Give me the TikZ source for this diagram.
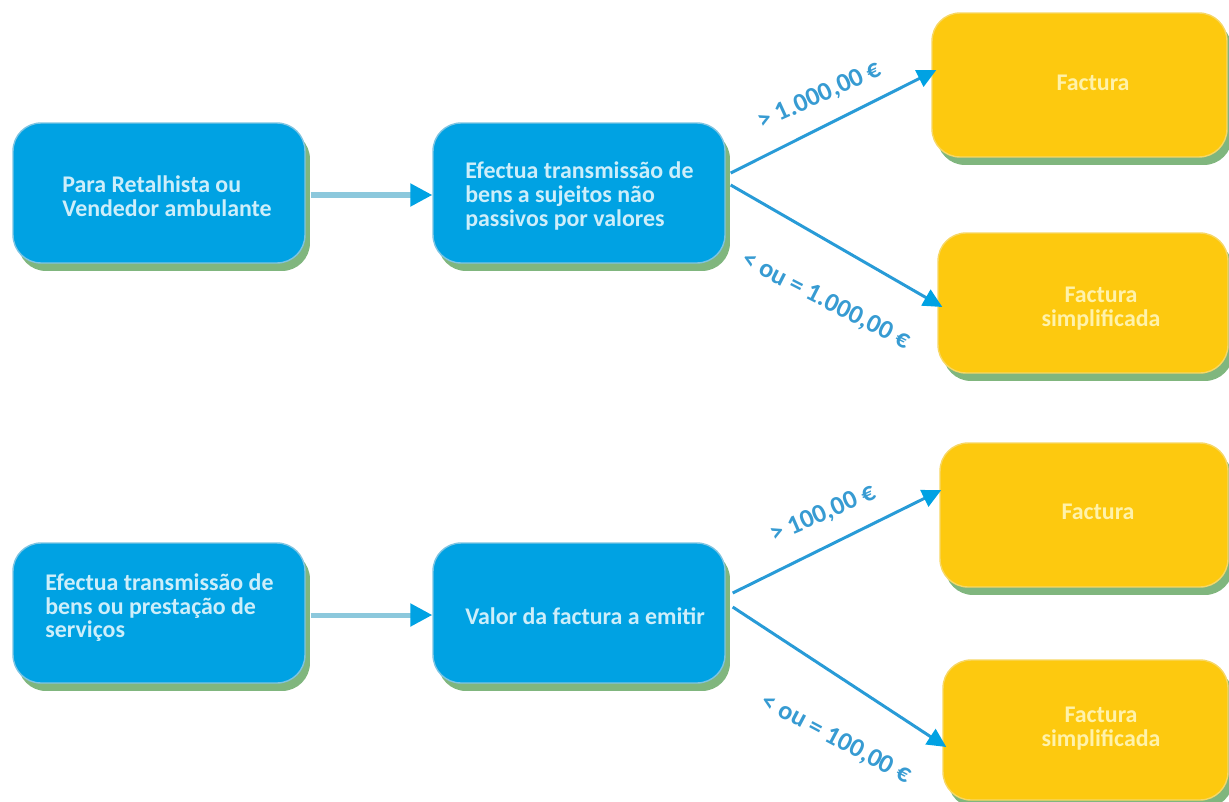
\documentclass[tikz,border=0pt]{standalone}
\usepackage{fontspec}
\setmainfont{Carlito}
\usetikzlibrary{arrows.meta,shadows}

\definecolor{boxblue}{RGB}{0,162,227}
\definecolor{boxyellow}{RGB}{253,201,15}
\definecolor{shadegreen}{RGB}{128,182,126}
\definecolor{rimblue}{RGB}{125,196,226}
\definecolor{rimyellow}{RGB}{247,215,100}
\definecolor{linkblue}{RGB}{140,200,220}
\definecolor{arrowblue}{RGB}{40,155,215}
\definecolor{tagblue}{RGB}{55,155,210}
\definecolor{inkblue}{RGB}{205,238,250}
\definecolor{inkyellow}{RGB}{255,242,170}

\tikzset{
  panel/.style={rounded corners=0.56cm, inner sep=0pt,
    general shadow={shadow xshift=0.1cm, shadow yshift=-0.16cm, fill=shadegreen}},
  bluepanel/.style={panel, fill=boxblue, draw=rimblue, line width=0.8pt},
  yellowpanel/.style={panel, fill=boxyellow, draw=rimyellow, line width=0.8pt},
  boxtext/.style={inner sep=0pt, font=\fontsize{13.6pt}{13.4pt}\selectfont\bfseries},
  bluetext/.style={boxtext, text=inkblue, align=left, anchor=west},
  yellowtext/.style={boxtext, text=inkyellow, align=center},
  tag/.style={inner sep=0pt, text=tagblue, font=\fontsize{15pt}{15pt}\selectfont\bfseries},
  link/.style={draw=linkblue, line width=2.85pt,
    -{Triangle[length=0.44cm, width=0.44cm, color=boxblue]}},
  branch/.style={draw=arrowblue, line width=1.7pt,
    -{Triangle[length=0.38cm, width=0.36cm, color=boxblue]}}
}

\begin{document}
\begin{tikzpicture}[x=0.02cm, y=-0.02cm]
\useasboundingbox (0,0) rectangle (1229,801);

% upper flow: retail seller
\node[bluepanel, minimum width=5.84cm, minimum height=2.8cm] (A) at (159,193) {};
\node[bluepanel, minimum width=5.84cm, minimum height=2.8cm] (B) at (579,193) {};
\node[yellowpanel, minimum width=5.9cm, minimum height=2.88cm] (C) at (1079.5,85) {};
\node[yellowpanel, minimum width=5.8cm, minimum height=2.8cm] (D) at (1083,303) {};

% lower flow: goods or services
\node[bluepanel, minimum width=5.84cm, minimum height=2.8cm] (E) at (159,613) {};
\node[bluepanel, minimum width=5.84cm, minimum height=2.8cm] (F) at (579,613) {};
\node[yellowpanel, minimum width=5.76cm, minimum height=2.88cm] (G) at (1084,515) {};
\node[yellowpanel, minimum width=5.7cm, minimum height=2.8cm] (H) at (1085.5,730) {};

% box texts
\node[bluetext] (At) at (62,196) {Para Retalhista ou\\Vendedor ambulante};
\node[bluetext] (Bt) at (465,196) {Efectua transmissão de\\bens a sujeitos não\\passivos por valores};
\node[bluetext] (Et) at (45,608) {Efectua transmissão de\\bens ou prestação de\\serviços};
\node[bluetext] (Ft) at (465,616) {Valor da factura a emitir};
\node[yellowtext] (Ct) at (1093,83) {Factura};
\node[yellowtext] (Dt) at (1101,308.5) {Factura\\simplificada};
\node[yellowtext] (Gt) at (1098,512) {Factura};
\node[yellowtext] (Ht) at (1101,728.5) {Factura\\simplificada};

% connectors
\draw[link] ([xshift=0.1cm, yshift=-0.04cm]A.east) -- ([yshift=-0.04cm]B.west);
\draw[branch] ([xshift=0.1cm, yshift=0.4cm]B.east) -- ([xshift=0.1cm, yshift=0.3cm]C.west);
\draw[branch] ([xshift=0.1cm, yshift=0.16cm]B.east) -- ([xshift=0.1cm, yshift=-0.08cm]D.west);
\draw[link] ([xshift=0.1cm, yshift=-0.04cm]E.east) -- ([yshift=-0.04cm]F.west);
\draw[branch] ([xshift=0.14cm, yshift=0.4cm]F.east) -- ([xshift=0.04cm, yshift=0.5cm]G.west);
\draw[branch] ([xshift=0.14cm, yshift=0.12cm]F.east) -- ([xshift=0.08cm, yshift=-0.34cm]H.west);

% value thresholds
\node[tag, rotate=24.5] (l1) at (820,96) {> 1.000,00 €};
\node[tag, rotate=-27] (l2) at (826,301) {< ou = 1.000,00 €};
\node[tag, rotate=23.6] (l3) at (823,514) {> 100,00 €};
\node[tag, rotate=-28] (l4) at (836,739) {< ou = 100,00 €};
\end{tikzpicture}
\end{document}
